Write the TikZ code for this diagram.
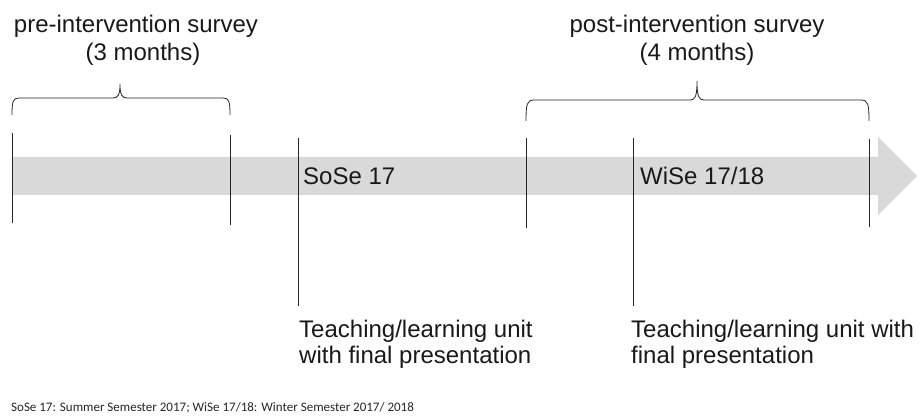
\documentclass[tikz,border=0pt]{standalone}
\usepackage{fontspec}
\setmainfont{Liberation Sans}
\newfontfamily\notefont{Carlito}
\definecolor{bandgray}{HTML}{D9D9D9}
\definecolor{linegray}{HTML}{262626}
\begin{document}
\begin{tikzpicture}[x=1pt,y=-1pt,
  lbl/.style={inner sep=0pt,font=\fontsize{24}{27}\selectfont,text=black!90},
  tick/.style={draw=linegray,line width=0.8pt},
  bracepath/.style={draw=linegray,line width=0.8pt}]
\useasboundingbox (0,0) rectangle (921,419);
% band arrow
\fill[bandgray] (12,157) -- (878,157) -- (878,137) -- (917,176) -- (878,215) -- (878,195) -- (12,195) -- cycle;
% ticks
\coordinate (t1a) at (12,133);  \coordinate (t1b) at (12,223);
\coordinate (t2a) at (230,135); \coordinate (t2b) at (230,225);
\coordinate (t3a) at (298,138); \coordinate (t3b) at (298,306);
\coordinate (t4a) at (526,138); \coordinate (t4b) at (526,228);
\coordinate (t5a) at (633,138); \coordinate (t5b) at (633,306);
\coordinate (t6a) at (869,139); \coordinate (t6b) at (869,227);
\foreach \i in {1,...,6} {\draw[tick] (t\i a) -- (t\i b);}
% braces
\draw[bracepath] (12,115) .. controls (12,101) and (13,98) .. (19,98) -- (113,98)
  .. controls (118,98) and (120,95) .. (120,84)
  .. controls (120,95) and (122,98) .. (127,98) -- (223,98)
  .. controls (229,98) and (230,101) .. (230,115);
\draw[bracepath] (526,121) .. controls (526,104) and (527,100) .. (534,100) -- (690,100)
  .. controls (695,100) and (697,97) .. (697,81)
  .. controls (697,97) and (699,100) .. (704,100) -- (861,100)
  .. controls (868,100) and (869,104) .. (869,121);
% texts
\node[lbl,anchor=base] (pre1) at (136,33) {pre-intervention survey};
\node[lbl,anchor=base] (pre2) at (143,61) {(3 months)};
\node[lbl,anchor=base] (post1) at (697,33) {post-intervention survey};
\node[lbl,anchor=base] (post2) at (697,61) {(4 months)};
\node[lbl,anchor=base west] (sose) at (303,185) {SoSe 17};
\node[lbl,anchor=base west] (wise) at (640,185) {WiSe 17/18};
\node[lbl,anchor=base west] (tl1) at (299,338) {Teaching/learning unit};
\node[lbl,anchor=base west] (tl2) at (299,364) {with final presentation};
\node[lbl,anchor=base west] (tr1) at (631,338) {Teaching/learning unit with};
\node[lbl,anchor=base west] (tr2) at (631,364) {final presentation};
\node[inner sep=0pt,anchor=base west,font=\notefont\fontsize{13}{15}\selectfont,text=black!85] (note) at (11,412) {SoSe 17: Summer Semester 2017; WiSe 17/18: Winter Semester 2017/ 2018};
\end{tikzpicture}
\end{document}
